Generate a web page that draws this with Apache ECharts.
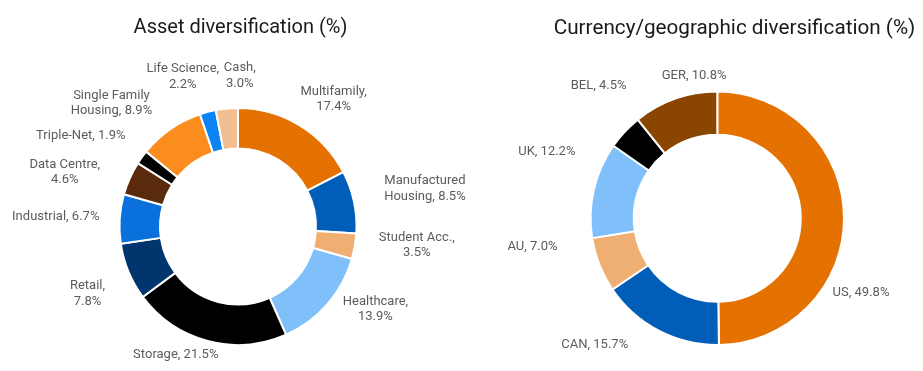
<!DOCTYPE html>
<html>
<head>
<meta charset="utf-8">
<script src="https://cdn.jsdelivr.net/npm/echarts@6/dist/echarts.min.js"></script>
<style>
  html, body { margin: 0; padding: 0; background: #fff; }
  #chart { width: 923px; height: 371px; }
</style>
</head>
<body>
<div id="chart"></div>
<script>
// ---------- data ----------
const assetTitle = 'Asset diversification (%)';
const assetNames = ['Multifamily', 'Manufactured Housing', 'Student Acc.', 'Healthcare', 'Storage', 'Retail',
                    'Industrial', 'Data Centre', 'Triple-Net', 'Single Family Housing', 'Life Science', 'Cash'];
const assetValues = [17.4, 8.5, 3.5, 13.9, 21.5, 7.8, 6.7, 4.6, 1.9, 8.9, 2.2, 3.0];

const geoTitle = 'Currency/geographic diversification (%)';
const geoNames = ['US', 'CAN', 'AU', 'UK', 'BEL', 'GER'];
const geoValues = [49.8, 15.7, 7.0, 12.2, 4.5, 10.8];

// ---------- styling / layout ----------
const assetColors = ['#E57200', '#005EB8', '#F0AE72', '#7FBFFA', '#000000', '#00356D',
                     '#0A70DC', '#5A2A0C', '#000000', '#FB8C1E', '#0A84F5', '#F2BF90'];
const geoColors = ['#E57200', '#005EB8', '#EFAE72', '#7FBFFA', '#000000', '#8A4500'];

// how each label text is broken into lines
const assetBreak = ['comma', 'Manufactured', 'comma', 'comma', 'none', 'comma',
                    'none', 'comma', 'none', 'Single Family', 'comma', 'comma'];
const geoBreak = ['none', 'none', 'none', 'none', 'none', 'none'];

// label centre offsets from the outer-edge point at each slice's mid angle
const assetLabelOffsets = [[34, -26], [71, -13], [62, -1], [48, 5], [-32, 14], [-41, 22],
                           [-64, -2], [-65, -6], [-61, -21], [-59, -26], [-25, -35], [13, -33]];
const geoLabelOffsets = [[17, 75], [-64, 14], [-67, -18], [-47, -38], [-26, -46], [19, -23]];

const assetGeom = { cx: 238, cy: 226.5, r0: 78, r: 118.5 };
const geoGeom = { cx: 717.3, cy: 218.3, r0: 83.5, r: 126.7 };

const labelFont = { fontFamily: 'Roboto', fontSize: 13, color: '#5c5c5c', lineHeight: 15.5 };

function labelLines(name, value, mode) {
  const v = value.toFixed(1) + '%';
  if (mode === 'comma') return [name + ',', v];
  if (mode === 'none') return [name + ', ' + v];
  const rest = name.slice(mode.length).trim();
  return [mode, rest + ', ' + v];
}

function anchors(values, geom) {
  const total = values.reduce((a, b) => a + b, 0);
  let cum = 0;
  return values.map(v => {
    const th = (cum + v / 2) / total * 2 * Math.PI;
    cum += v;
    return [geom.cx + geom.r * Math.sin(th), geom.cy - geom.r * Math.cos(th)];
  });
}

function makeSeries(names, values, colors, breaks, offsets, geom) {
  const anc = anchors(values, geom);
  return {
    type: 'pie',
    center: [geom.cx, geom.cy],
    radius: [geom.r0, geom.r],
    startAngle: 90,
    clockwise: true,
    avoidLabelOverlap: false,
    silent: true,
    itemStyle: { borderColor: '#ffffff', borderWidth: 2 },
    label: {
      show: true,
      position: 'outside',
      ...labelFont,
      formatter: p => labelLines(names[p.dataIndex], values[p.dataIndex], breaks[p.dataIndex])
                        .map(s => '{t|' + s + '}').join('\n'),
      rich: { t: { ...labelFont, align: 'center' } }
    },
    labelLine: { show: false },
    labelLayout: p => {
      const i = p.dataIndex;
      return {
        x: anc[i][0] + offsets[i][0],
        y: anc[i][1] + offsets[i][1],
        align: 'center',
        verticalAlign: 'middle'
      };
    },
    emphasis: { disabled: true },
    data: names.map((n, i) => ({ name: n, value: values[i], itemStyle: { color: colors[i] } }))
  };
}

const chart = echarts.init(document.getElementById('chart'), null, { renderer: 'canvas' });
chart.setOption({
  animation: false,
  backgroundColor: '#ffffff',
  title: [
    { text: assetTitle, left: 235.5, top: 13, textAlign: 'center',
      textStyle: { fontFamily: 'Roboto', fontSize: 20, fontWeight: 'normal', color: '#1a1a1a' } },
    { text: geoTitle, left: 729.5, top: 13, textAlign: 'center',
      textStyle: { fontFamily: 'Roboto', fontSize: 20.7, fontWeight: 'normal', color: '#1a1a1a' } }
  ],
  series: [
    makeSeries(assetNames, assetValues, assetColors, assetBreak, assetLabelOffsets, assetGeom),
    makeSeries(geoNames, geoValues, geoColors, geoBreak, geoLabelOffsets, geoGeom)
  ]
});
</script>
</body>
</html>
